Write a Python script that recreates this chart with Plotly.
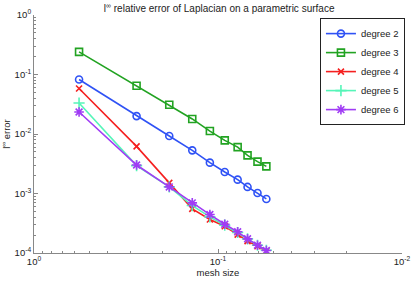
import plotly.graph_objects as go

mesh_size = [0.569, 0.277, 0.184, 0.138, 0.1107, 0.0919, 0.0782, 0.0691, 0.0610, 0.0546]
err_deg2 = [0.0824, 0.0200, 0.00925, 0.00531, 0.00330, 0.00230, 0.00171, 0.00129, 0.00102, 0.00081]
err_deg3 = [0.240, 0.0646, 0.0310, 0.0179, 0.0112, 0.00781, 0.00601, 0.00438, 0.00343, 0.00286]
err_deg4 = [0.0582, 0.00619, 0.00151, 0.000552, 0.000365, 0.000282, 0.000204, 0.000158, 0.000130, 0.000107]
err_deg5 = [0.0331, 0.00294, 0.00129, 0.000627, 0.000405, 0.000293, 0.000221, 0.000173, 0.000135, 0.000111]
err_deg6 = [0.0234, 0.00301, 0.00129, 0.000695, 0.000443, 0.000304, 0.000227, 0.000173, 0.000135, 0.000110]
series_names = ["degree 2", "degree 3", "degree 4", "degree 5", "degree 6"]

x_ticks = [1, 0.1, 0.01]
x_ticktext = ["10<sup>0</sup>", "10<sup>-1</sup>", "10<sup>-2</sup>"]
y_ticks = [1, 0.1, 0.01, 0.001, 0.0001]
y_ticktext = ["10<sup>0</sup>", "10<sup>-1</sup>", "10<sup>-2</sup>", "10<sup>-3</sup>", "10<sup>-4</sup>"]

series = [err_deg2, err_deg3, err_deg4, err_deg5, err_deg6]
colors = ["#2f52f5", "#22a322", "#f52020", "#55f5b8", "#a03cf5"]
symbols = ["circle-open", "square-open", "x-thin-open", "cross-thin-open", "asterisk-open"]
sizes = [7, 7, 6, 8, 8]

fig = go.Figure()
for name, ys, c, s, sz in zip(series_names, series, colors, symbols, sizes):
    fig.add_trace(go.Scatter(
        x=mesh_size, y=ys, name=name, mode="lines+markers",
        line=dict(color=c, width=1.6),
        marker=dict(symbol=s, size=sz, color=c, line=dict(color=c, width=1.6)),
    ))

minor_x = [m * 10 ** k for k in (-2, -1) for m in range(2, 10)]
minor_y = [m * 10 ** k for k in (-4, -3, -2, -1) for m in range(2, 10)]

font = "Liberation Sans, Arial, Helvetica, sans-serif"
fig.update_layout(
    width=415, height=287,
    margin=dict(l=34, r=10, t=15, b=34),
    paper_bgcolor="white", plot_bgcolor="white",
    font=dict(family=font, size=9.5, color="#222"),
    title=dict(text="l<sup>∞</sup> relative error of Laplacian on a parametric surface",
               x=0.528, xanchor="center", y=0.983, yanchor="top", font=dict(size=10)),
    showlegend=True,
    legend=dict(x=1.008, y=0.987, xanchor="right", yanchor="top",
                bordercolor="#222", borderwidth=1, bgcolor="white",
                font=dict(size=9.5), tracegroupgap=0, itemwidth=30),
    xaxis=dict(type="log", range=[0, -2], showgrid=False, zeroline=False, automargin=False,
               showline=True, linecolor="#888", linewidth=1,
               ticks="inside", ticklen=4, tickcolor="#888",
               tickvals=x_ticks, ticktext=x_ticktext,
               minor=dict(tickvals=minor_x, ticks="inside", ticklen=2, tickcolor="#888"),
               title=dict(text="mesh size", standoff=2, font=dict(size=9.5))),
    yaxis=dict(type="log", range=[-4, 0], showgrid=False, zeroline=False, automargin=False,
               showline=True, linecolor="#888", linewidth=1,
               ticks="inside", ticklen=4, tickcolor="#888",
               tickvals=y_ticks, ticktext=y_ticktext,
               minor=dict(tickvals=minor_y, ticks="inside", ticklen=2, tickcolor="#888"),
               title=dict(text="l<sup>∞</sup> error", standoff=2, font=dict(size=9.5))),
)

fig.write_html("out.html", config={"displayModeBar": False},
               post_script="document.body.style.margin='0';")
